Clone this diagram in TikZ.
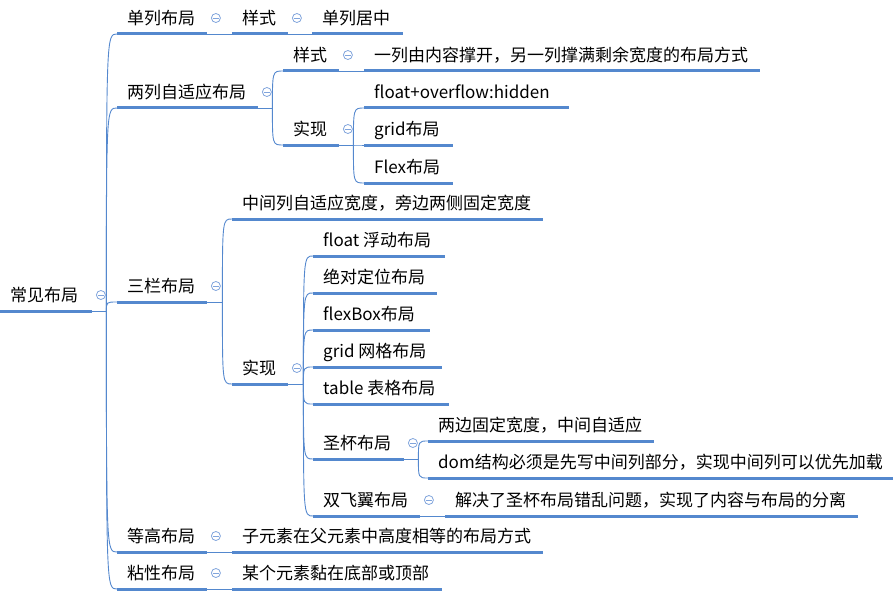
\documentclass[tikz,border=0pt]{standalone}
\usepackage{fontspec}
\setmainfont{Noto Sans CJK SC}
\definecolor{lineblue}{RGB}{84,136,206}
\definecolor{iconblue}{RGB}{128,164,220}
\begin{document}
\begin{tikzpicture}[x=1pt,y=-1pt,
  topic/.style={anchor=south west, inner xsep=0pt, inner ysep=5pt,
    text height=13pt, text depth=4.5pt,
    font=\fontsize{17pt}{20pt}\selectfont,
    execute at begin node={\hbox to #1pt\bgroup\hskip10pt},
    execute at end node={\hfil\egroup}},
  uline/.style={draw=lineblue, line width=3pt},
  conn/.style={draw=lineblue, line width=0.9pt},
  icon/.style={circle, draw=iconblue, line width=0.8pt, minimum size=9pt, inner sep=0pt,
    path picture={\draw[iconblue, line width=0.8pt]
      ([xshift=-2.6pt]path picture bounding box.center) -- ([xshift=2.6pt]path picture bounding box.center);}}]
\useasboundingbox (0,0) rectangle (893,599);

% topics
\node[topic=92]  (r)   at (0,311)   {常见布局};
\node[topic=90]  (a1)  at (117,34)  {单列布局};
\node[topic=141] (a2)  at (117,108) {两列自适应布局};
\node[topic=90]  (a3)  at (117,302) {三栏布局};
\node[topic=90]  (a4)  at (117,552) {等高布局};
\node[topic=90]  (a5)  at (117,589) {粘性布局};
\node[topic=56]  (b11) at (232,34)  {样式};
\node[topic=91]  (c111) at (312,34) {单列居中};
\node[topic=56]  (b21) at (283,71)  {样式};
\node[topic=396] (c211) at (364,71) {一列由内容撑开，另一列撑满剩余宽度的布局方式};
\node[topic=56]  (b22) at (283,145) {实现};
\node[topic=205] (c221) at (364,108) {float+overflow:hidden};
\node[topic=89]  (c222) at (364,145) {grid布局};
\node[topic=89]  (c223) at (364,183) {Flex布局};
\node[topic=311] (b31) at (232,219) {中间列自适应宽度，旁边两侧固定宽度};
\node[topic=56]  (b32) at (232,384) {实现};
\node[topic=132] (d1)  at (313,256) {float 浮动布局};
\node[topic=124] (d2)  at (313,293) {绝对定位布局};
\node[topic=117] (d3)  at (313,330) {flexBox布局};
\node[topic=129] (d4)  at (313,367) {grid 网格布局};
\node[topic=136] (d5)  at (313,404) {table 表格布局};
\node[topic=91]  (d6)  at (313,459) {圣杯布局};
\node[topic=107] (d7)  at (313,516) {双飞翼布局};
\node[topic=226] (e1)  at (428,441) {两边固定宽度，中间自适应};
\node[topic=465] (e2)  at (428,478) {dom结构必须是先写中间列部分，实现中间列可以优先加载};
\node[topic=413] (e3)  at (445,516) {解决了圣杯布局错乱问题，实现了内容与布局的分离};
\node[topic=311] (f1)  at (232,552) {子元素在父元素中高度相等的布局方式};
\node[topic=210] (f2)  at (232,589) {某个元素黏在底部或顶部};

% junctions
\coordinate (j0)  at ([xshift=14pt]r.south east);
\coordinate (j2)  at ([xshift=14pt]a2.south east);
\coordinate (j22) at ([xshift=14pt]b22.south east);
\coordinate (j3)  at ([xshift=15pt]a3.south east);
\coordinate (j32) at ([xshift=15pt]b32.south east);
\coordinate (j6)  at ([xshift=14pt]d6.south east);

% connectors
\draw[conn] (r.south east) -- (j0);
\foreach \c in {a1,a2,a3,a4,a5}
  \draw[conn] (j0) .. controls (j0 |- \c.south west) .. (\c.south west);
\draw[conn] (a2.south east) -- (j2);
\foreach \c in {b21,b22}
  \draw[conn] (j2) .. controls (j2 |- \c.south west) .. (\c.south west);
\draw[conn] (b22.south east) -- (j22);
\foreach \c in {c221,c222,c223}
  \draw[conn] (j22) .. controls (j22 |- \c.south west) .. (\c.south west);
\draw[conn] (a3.south east) -- (j3);
\foreach \c in {b31,b32}
  \draw[conn] (j3) .. controls (j3 |- \c.south west) .. (\c.south west);
\draw[conn] (b32.south east) -- (j32);
\foreach \c in {d1,d2,d3,d4,d5,d6,d7}
  \draw[conn] (j32) .. controls (j32 |- \c.south west) .. (\c.south west);
\draw[conn] (d6.south east) -- (j6);
\foreach \c in {e1,e2}
  \draw[conn] (j6) .. controls (j6 |- \c.south west) .. (\c.south west);
\draw[conn] (a1.south east) -- (b11.south west);
\draw[conn] (b11.south east) -- (c111.south west);
\draw[conn] (b21.south east) -- (c211.south west);
\draw[conn] (d7.south east) -- (e3.south west);
\draw[conn] (a4.south east) -- (f1.south west);
\draw[conn] (a5.south east) -- (f2.south west);

% underlines
\foreach \n in {r,a1,a2,a3,a4,a5,b11,c111,b21,c211,b22,c221,c222,c223,b31,b32,
                d1,d2,d3,d4,d5,d6,d7,e1,e2,e3,f1,f2}
  \draw[uline] (\n.south west) -- (\n.south east);

% collapse icons
\foreach \n in {r,a1,a2,a3,a4,a5,b11,b21,b22,b32,d6,d7}
  \node[icon] (i\n) at ([xshift=8.5pt,yshift=16pt]\n.south east) {};
\end{tikzpicture}
\end{document}
